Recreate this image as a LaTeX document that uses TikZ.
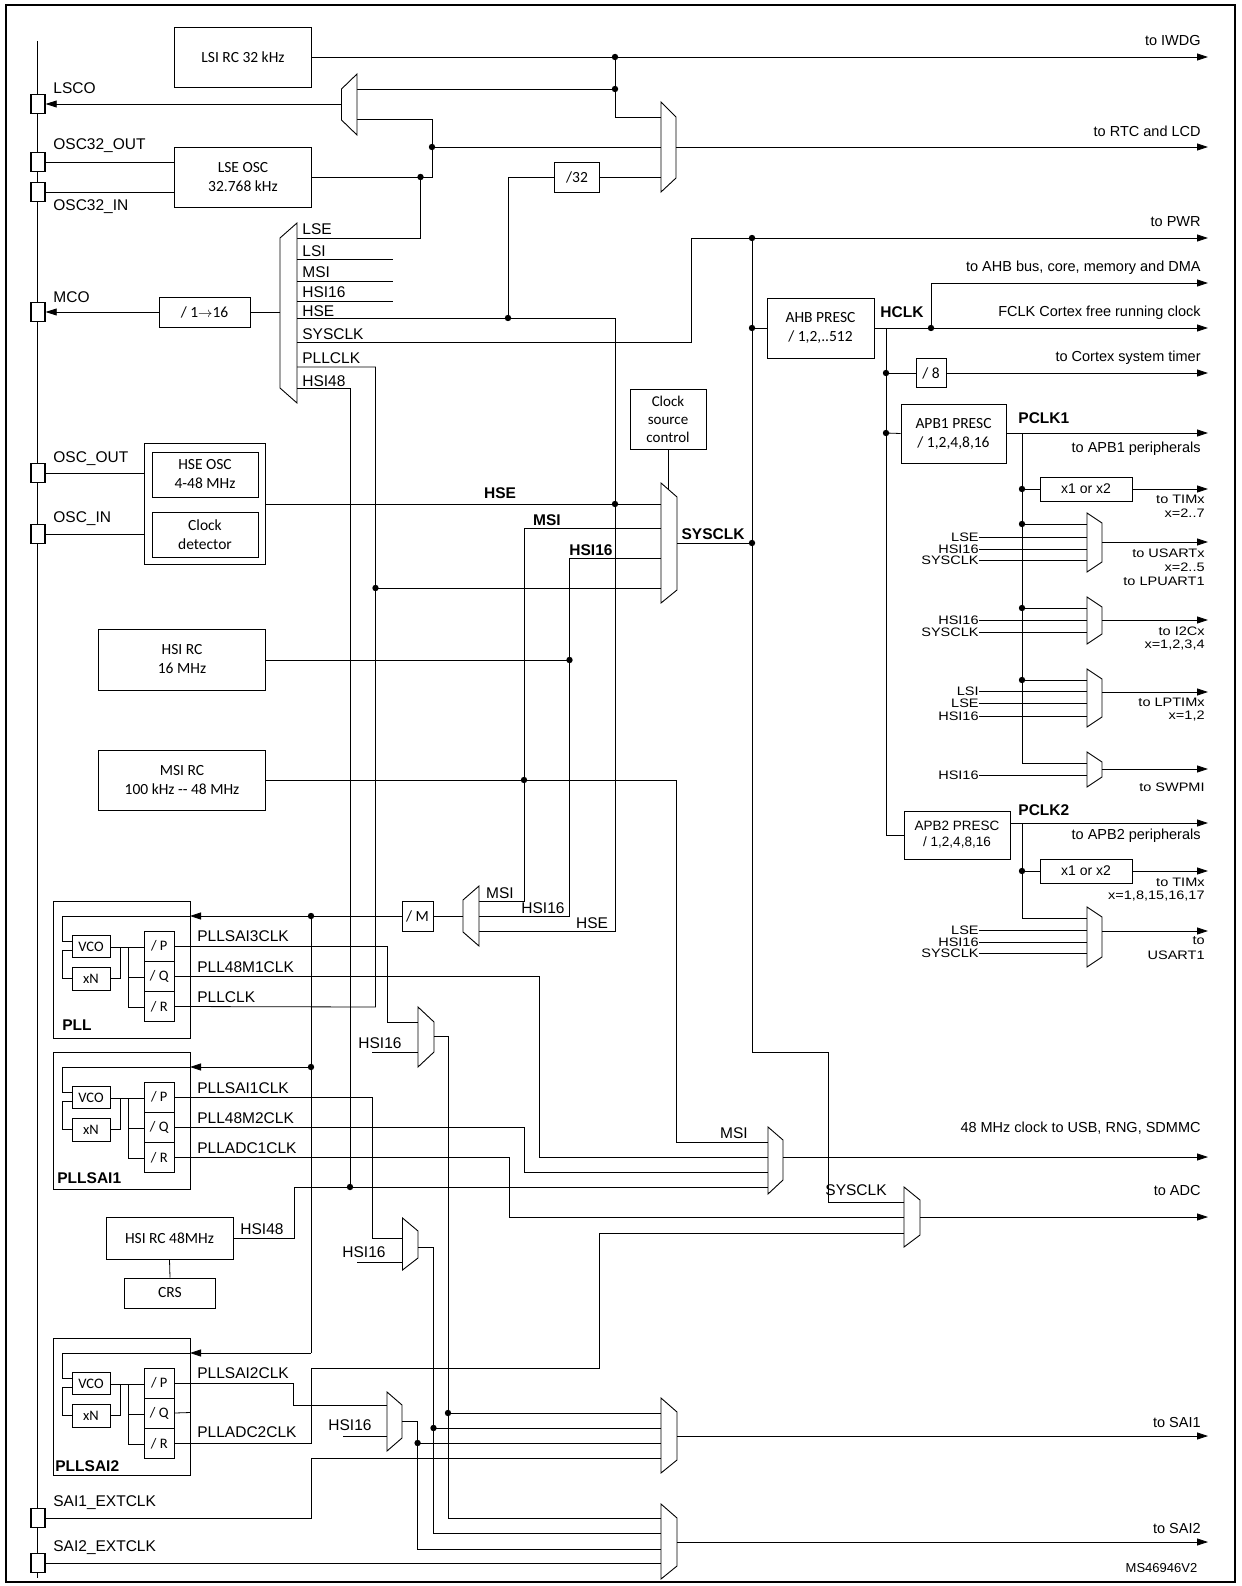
\documentclass[tikz,border=0pt]{standalone}
\usepackage{fontspec}
\setmainfont{Liberation Sans}
\newfontfamily\calf{Carlito}
\newfontfamily\widef[FakeStretch=1.18]{Liberation Sans}
\usetikzlibrary{arrows.meta}
\begin{document}
\begin{tikzpicture}[x=1pt,y=-1pt,line width=0.8pt,
  box/.style={draw,line width=0.9pt,font=\calf\fontsize{15.5}{19}\selectfont,align=center,inner sep=1pt},
  ibox/.style={draw,line width=0.9pt,font=\calf\fontsize{14.5}{16}\selectfont,inner sep=0pt},
  sbox/.style={draw,line width=0.9pt,font=\fontsize{14}{16}\selectfont,inner sep=1pt},
  pad/.style={draw,line width=1.3pt,fill=white,minimum width=14pt,minimum height=19pt,inner sep=0pt},
  lb/.style={font=\fontsize{15.5}{17}\selectfont,inner sep=0pt},
  tl/.style={font=\fontsize{14.5}{17}\selectfont,inner sep=0pt},
  sl/.style={font=\fontsize{15.5}{16}\selectfont,inner sep=0pt},
  st/.style={font=\widef\fontsize{12.3}{13}\selectfont,inner sep=0pt},
  bl/.style={font=\bfseries\fontsize{15.5}{17}\selectfont,inner sep=0pt},
  arr/.style={-{Triangle[length=11pt,width=7pt]}},
  mux/.style={draw,line width=0.9pt,fill=white}]
\useasboundingbox (0,0) rectangle (1241,1586);
\draw[line width=2pt] (6,5) rectangle (1235,1582);
\newcommand\dt[2]{\fill (#1,#2) circle (3.2pt);}
\newcommand\mx[6]{\draw[mux] (#1,#3) -- (#2,#5) -- (#2,#6) -- (#1,#4) -- cycle;}
% PLL block: #1=y0, #2=name
\newcommand\pllblk[2]{%
 \draw[line width=0.9pt] (53,#1) rectangle (190,{#1+137});
 \node[ibox,minimum width=38pt,minimum height=22pt] (#2vco) at (91,{#1+45.5}) {VCO};
 \node[ibox,minimum width=38pt,minimum height=23pt] (#2xn) at (91,{#1+77.5}) {xN};
 \node[ibox,minimum width=30.5pt,minimum height=30pt] (#2p) at (159.25,{#1+45}) {/ P};
 \node[ibox,minimum width=30.5pt,minimum height=30pt] (#2q) at (159.25,{#1+75}) {/ Q};
 \node[ibox,minimum width=30.5pt,minimum height=30pt] (#2r) at (159.25,{#1+105.5}) {/ R};
 \draw (190,{#1+15}) -- (62.5,{#1+15}) -- (62.5,{#1+40}) -- (72,{#1+40});
 \draw (72,{#1+49}) -- (62.5,{#1+49}) -- (62.5,{#1+77}) -- (72,{#1+77});
 \draw (110,{#1+46}) -- (144,{#1+46});
 \draw (110,{#1+77}) -- (120.6,{#1+77}) -- (120.6,{#1+46});
 \draw (128.6,{#1+46}) -- (128.6,{#1+106}) -- (144,{#1+106});
 \draw (128.6,{#1+76}) -- (144,{#1+76});
}
% left bus
\draw[line width=1.5pt] (37.5,41) -- (37.5,1578);
\foreach \n/\y in {lsco/104,o32o/162,o32i/192,mco/312,osco/473,osci/534,sai1e/1518,sai2e/1563}
  \node[pad] (\n) at (38,\y) {};
\foreach \t/\y in {LSCO/88,OSC32\_OUT/146,OSC32\_IN/207,MCO/297,OSC\_OUT/459,OSC\_IN/519,SAI1\_EXTCLK/1503,SAI2\_EXTCLK/1548}
  \node[lb,anchor=west] at (53,\y) {\t};
% boxes
\node[box,minimum width=137pt,minimum height=60pt] (lsi) at (243,57) {LSI RC 32 kHz};
\node[box,minimum width=137pt,minimum height=60pt] (lse) at (243,177) {LSE OSC\\32.768 kHz};
\node[box,minimum width=45pt,minimum height=30pt] (d32) at (577,177) {/32};
\node[box,minimum width=91pt,minimum height=30pt] (d16) at (204.5,312) {/ 1$\rightarrow$16};
\node[draw,line width=0.9pt,minimum width=121pt,minimum height=121pt] (hseo) at (205,503.5) {};
\node[box,minimum width=106pt,minimum height=45pt] (hse) at (205,474.5) {HSE OSC\\4-48 MHz};
\node[box,minimum width=106pt,minimum height=45pt] (cdet) at (205,534.5) {Clock\\detector};
\node[box,minimum width=167pt,minimum height=61pt] (hsi) at (182,659.5) {HSI RC\\16 MHz};
\node[box,minimum width=167pt,minimum height=60pt] (msi) at (182,780) {MSI RC\\100 kHz -- 48 MHz};
\node[box,minimum width=76pt,minimum height=60pt,font=\calf\fontsize{15}{18}\selectfont] (csc) at (668,419) {Clock\\source\\control};
\node[box,minimum width=107pt,minimum height=60pt] (ahb) at (820.5,328) {AHB PRESC\\/ 1,2,..512};
\node[box,minimum width=30pt,minimum height=29pt] (d8) at (931,373) {/ 8};
\node[box,minimum width=105pt,minimum height=59pt] (apb1) at (953.5,433.5) {APB1 PRESC\\/ 1,2,4,8,16};
\node[sbox,minimum width=92pt,minimum height=24pt] (x1a) at (1086,489) {x1 or x2};
\node[box,minimum width=106pt,minimum height=48pt,font=\fontsize{13.5}{16}\selectfont] (apb2) at (957,835) {APB2 PRESC\\/ 1,2,4,8,16};
\node[sbox,minimum width=92pt,minimum height=24pt] (x1b) at (1086,871) {x1 or x2};
\node[box,minimum width=31pt,minimum height=30pt] (dm) at (417.5,916) {/ M};
\node[box,minimum width=127pt,minimum height=42pt] (h48) at (169.5,1238) {HSI RC 48MHz};
\node[box,minimum width=91pt,minimum height=30pt] (crs) at (170,1293) {CRS};
\draw (h48.south) -- (crs.north);
\pllblk{901}{pa}
\pllblk{1052}{pb}
\pllblk{1338}{pc}
\node[bl,anchor=west] at (62,1025) {PLL};
\node[bl,anchor=west] at (57,1178) {PLLSAI1};
\node[bl,anchor=west] at (55,1466) {PLLSAI2};
% ---- top section
\draw[arr] (lsi.east) -- (1208,57);
\dt{615}{57}\dt{615}{89}
\draw (615,57) -- (615,117) -- (661,117);
\draw (357,89) -- (615,89);
\draw (357,119) -- (432,119) -- (432,177) -- (lse.east);
\dt{432}{147}\dt{420.5}{177}
\draw (432,147) -- (661,147);
\draw (420.5,177) -- (420.5,238) -- (297,238);
\draw (o32o.east) -- (174.5,162);
\draw (o32i.east) -- (174.5,192);
\mx{357}{341.5}{74}{135}{89}{120}
\draw[arr] (341.5,104) -- (lsco.east);
\dt{508}{318}
\draw (508,318) -- (508,177) -- (d32.west);
\draw (d32.east) -- (661,177);
\mx{661}{676}{102}{192}{117}{178}
\draw[arr] (676,147) -- (1208,147);
% MCO mux
\mx{297}{280}{223}{403}{238}{388}
\draw (280,312) -- (d16.east);
\draw[arr] (d16.west) -- (mco.east);
\draw (297,259) -- (393,259);
\draw (297,281) -- (393,281);
\draw (297,301) -- (393,301);
\draw (297,318) -- (615,318) -- (615,931) -- (479,931);
\draw (297,342) -- (691,342) -- (691,238);
\draw[arr] (691,238) -- (1208,238);
\draw (297,367) -- (375.5,367) -- (375.5,1007) -- (par.east);
\draw (297,388) -- (350,388) -- (350,1187);
\foreach \t/\y in {LSE/229,LSI/251,MSI/272,HSI16/292,HSE/311,SYSCLK/334,PLLCLK/358,HSI48/381}
  \node[lb,anchor=west] at (302,\y) {\t};
% SYSCLK mux
\draw (hseo.east |- 0,504) -- (661,504);
\dt{615}{504}
\draw (524,528) -- (661,528);
\draw (524,528) -- (524,901) -- (479,901);
\dt{524}{780}
\draw (msi.east) -- (676,780) -- (676,1142) -- (768,1142);
\draw (569.5,558) -- (661,558);
\draw (569.5,558) -- (569.5,916) -- (479,916);
\dt{569.5}{660}
\draw (hsi.east |- 0,660) -- (569.5,660);
\dt{375.5}{588}
\draw (375.5,588) -- (661,588);
\draw (csc.south) -- (668,490);
\mx{661}{677}{483}{603}{497}{590}
\draw (677,543) -- (752,543);
\dt{752}{543}
\node[bl] at (500,493) {HSE};
\node[bl] at (547,520) {MSI};
\node[bl] at (591,550) {HSI16};
\node[bl] at (713,534) {SYSCLK};
\draw (hseo.west |- 0,473) -- (osco.east);
\draw (hseo.west |- 0,534) -- (osci.east);
% bus / AHB
\dt{752}{238}\dt{752}{328}
\draw (752,238) -- (752,1052) -- (828,1052) -- (828,1202) -- (904,1202);
\draw (752,328) -- (ahb.west);
\draw[arr] (ahb.east) -- (1208,328);
\dt{931}{328}
\draw[arr] (931,328) -- (931,283) -- (1208,283);
\draw (886,328) -- (886,835) -- (apb2.west);
\dt{886}{373}\dt{886}{433}
\draw (886,373) -- (d8.west);
\draw[arr] (d8.east) -- (1208,373);
\draw (886,433) -- (apb1.west);
\draw[arr] (apb1.east |- 0,433) -- (1208,433);
\node[bl,anchor=west] at (880,312) {HCLK};
\node[bl,anchor=west] at (1018,418) {PCLK1};
\foreach \t/\y in {to IWDG/41,to RTC and LCD/131,to PWR/222,{to AHB bus, core, memory and DMA}/268,FCLK Cortex free running clock/313,to Cortex system timer/358,to APB1 peripherals/449,to APB2 peripherals/836,{48 MHz clock to USB, RNG, SDMMC}/1128,to ADC/1190,to SAI1/1422,to SAI2/1528}
  \node[tl,anchor=east] at (1201,\y) {\t};
% APB1 branch
\draw (1022,433) -- (1022,763) -- (1087,763);
\dt{1022}{489}\dt{1022}{524}\dt{1022}{608}\dt{1022}{680}
\draw (1022,489) -- (x1a.west);
\draw[arr] (x1a.east) -- (1208,489);
\draw (1022,524) -- (1087,524);
\draw (1022,608) -- (1087,608);
\draw (1022,680) -- (1087,680);
\foreach \y in {537,549,560,620,632,691,703,716,775} \draw (979,\y) -- (1087,\y);
\mx{1087}{1102}{513}{572}{523}{562}
\mx{1087}{1102}{597}{644}{607}{634}
\mx{1087}{1102}{669}{727}{679}{717}
\mx{1087}{1102}{752}{787}{762}{777}
\draw[arr] (1102,542) -- (1208,542);
\draw[arr] (1102,620) -- (1208,620);
\draw[arr] (1102,692) -- (1208,692);
\draw[arr] (1102,769) -- (1208,769);
\foreach \t/\y in {LSE/537,HSI16/549,SYSCLK/560,HSI16/620,SYSCLK/632,LSI/691,LSE/703,HSI16/716,HSI16/775,LSE/930,HSI16/942,SYSCLK/953}
  \node[st,anchor=east] at (979,\y) {\t};
\foreach \t/\y in {to TIMx/499,x=2..7/513,to USARTx/553,x=2..5/567,to LPUART1/581,to I2Cx/631,{x=1,2,3,4}/645,to LPTIMx/702,{x=1,2}/716,to SWPMI/787,to TIMx/882,{x=1,8,15,16,17}/896,to/941,USART1/955}
  \node[st,anchor=east] at (1205,\y) {\t};
% APB2 branch
\draw[arr] (apb2.east |- 0,823) -- (1208,823);
\node[bl,anchor=west] at (1018,810) {PCLK2};
\draw (1022,823) -- (1022,918) -- (1087,918);
\dt{1022}{871}
\draw (1022,871) -- (x1b.west);
\draw[arr] (x1b.east) -- (1208,871);
\foreach \y in {930,942,953} \draw (979,\y) -- (1087,\y);
\mx{1087}{1102}{907}{967}{917}{957}
\draw[arr] (1102,931) -- (1208,931);
% PLL source mux
\mx{479}{463}{886}{946}{900}{932}
\draw (463,916) -- (dm.east);
\dt{311}{916}
\draw (dm.west) -- (311,916);
\draw[arr] (311,916) -- (190,916);
\draw (311,916) -- (311,1353);
\draw[arr] (311,1353) -- (190,1353);
\dt{311}{1067}
\draw[arr] (311,1067) -- (190,1067);
\node[sl] at (500,893) {MSI};
\node[sl] at (543,908) {HSI16};
\node[sl] at (592,923) {HSE};
% PLL outputs
\draw (pap.east) -- (387,946) -- (387,1022) -- (418,1022);
\draw (paq.east) -- (539,976) -- (539,1157) -- (768,1157);
\foreach \t/\y in {PLLSAI3CLK/936,PLL48M1CLK/967,PLLCLK/997,PLLSAI1CLK/1088,PLL48M2CLK/1118,PLLADC1CLK/1148,PLLSAI2CLK/1373,PLLADC2CLK/1432}
  \node[lb,anchor=west] at (197,\y) {\t};
\mx{418}{434}{1007}{1067}{1022}{1052}
\draw (372,1052) -- (418,1052);
\node[sl] at (380,1043) {HSI16};
\draw (434,1036) -- (448,1036) -- (448,1518) -- (661,1518);
\dt{448}{1413}
\draw (448,1413) -- (661,1413);
% PLLSAI1 outputs
\draw (pbp.east) -- (372.6,1097) -- (372.6,1238) -- (402.5,1238);
\draw (pbq.east) -- (524,1127) -- (524,1172) -- (768,1172);
\draw (pbr.east) -- (509.5,1157.5) -- (509.5,1217) -- (904,1217);
\mx{402.5}{418}{1218}{1270}{1231}{1258}
\draw (357,1262) -- (402.5,1262);
\node[sl] at (364,1252) {HSI16};
\draw (418,1247) -- (433.5,1247) -- (433.5,1533) -- (661,1533);
\dt{433.5}{1428}
\draw (433.5,1428) -- (661,1428);
% 48 MHz mux
\dt{350}{1187}
\draw (h48.east) -- (294,1238) -- (294,1187) -- (768,1187);
\node[lb] at (262,1229) {HSI48};
\mx{768}{783}{1127}{1194}{1140}{1180}
\draw[arr] (783,1157) -- (1208,1157);
\node[sl] at (734,1133) {MSI};
% ADC mux
\mx{904}{920}{1187}{1247}{1200}{1235}
\draw[arr] (920,1217) -- (1208,1217);
\node[sl] at (856,1190) {SYSCLK};
% PLLSAI2 outputs
\draw (pcp.east) -- (293,1383) -- (293,1405) -- (387,1405);
\draw (pcq.east) -- (190,1412.5);
\draw (pcr.east) -- (311,1443.5) -- (311,1368) -- (599,1368) -- (599,1233) -- (904,1233);
\mx{387}{402}{1392}{1451}{1405}{1438}
\draw (343,1436) -- (387,1436);
\node[sl] at (350,1425) {HSI16};
\draw (402,1421) -- (417.6,1421) -- (417.6,1549) -- (661,1549);
\dt{417.6}{1443}
\draw (417.6,1443) -- (661,1443);
% SAI pads
\draw (sai1e.east) -- (311,1518) -- (311,1458) -- (661,1458);
\draw (sai2e.east) -- (661,1563);
\mx{661}{677}{1398}{1473}{1412}{1460}
\mx{661}{677}{1504}{1579}{1518}{1566}
\draw[arr] (677,1436) -- (1208,1436);
\draw[arr] (677,1542) -- (1208,1542);
\node[font=\fontsize{13}{14}\selectfont,anchor=east] at (1201,1568) {MS46946V2};
\end{tikzpicture}
\end{document}
